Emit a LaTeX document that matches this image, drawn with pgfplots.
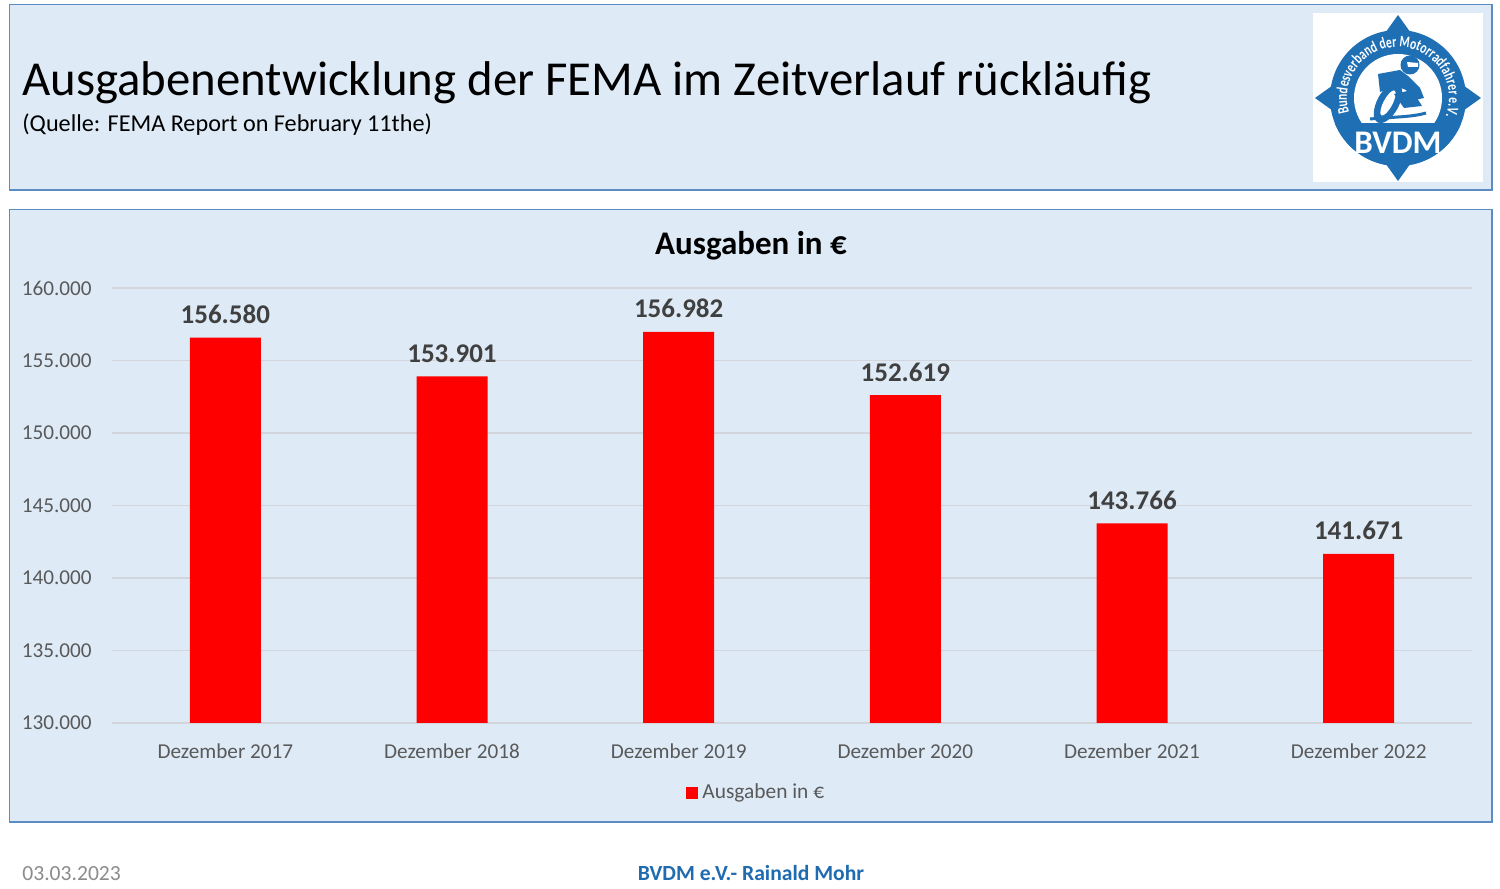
\documentclass[border=0pt]{standalone}
\usepackage{pgfplots}
\pgfplotsset{compat=1.18}
\usepackage{fontspec}
\setmainfont{Carlito}
\newfontfamily\logofont{Carlito}[FakeStretch=0.72]
\usetikzlibrary{decorations.text}
\definecolor{panel}{HTML}{DEEBF7}
\definecolor{panelborder}{HTML}{5B8DC3}
\definecolor{gridgray}{HTML}{D2D6DC}
\definecolor{tickgray}{HTML}{595959}
\definecolor{labelgray}{HTML}{404040}
\definecolor{footgray}{HTML}{8C8C8C}
\definecolor{footblue}{HTML}{1F6BB0}
\definecolor{logoblue}{HTML}{1F6FB4}
\definecolor{barred}{HTML}{FF0000}
\begin{document}
\begin{tikzpicture}
\path[use as bounding box, fill=white] (0,0) rectangle (750pt,444.5pt);
\begin{scope}[x=0.5pt,y=-0.5pt,shift={(0,444.5pt)}]
  \draw[panelborder, fill=panel, line width=0.7pt] (9.5,4.5) rectangle (1492,190);
  \draw[panelborder, fill=panel, line width=0.7pt] (9.5,209.5) rectangle (1492,822);
  \node[anchor=base west, inner sep=0pt] at (22,96) {\fontsize{24.4pt}{28pt}\selectfont Ausgabenentwicklung der FEMA im Zeitverlauf rückläufig};
  \node[anchor=base west, inner sep=0pt] at (22,132) {\fontsize{12.1pt}{14pt}\selectfont (Quelle: FEMA Report on February 11the)};
  \node[anchor=base, inner sep=0pt] at (751,255) {\bfseries\fontsize{16.5pt}{20pt}\selectfont Ausgaben in €};
  \node[anchor=base west, inner sep=0pt, text=footgray] at (22,881) {\fontsize{10.8pt}{13pt}\selectfont 03.03.2023};
  \node[anchor=base, inner sep=0pt, text=footblue] at (751,881) {\bfseries\fontsize{10.8pt}{13pt}\selectfont BVDM e.V.- Rainald Mohr};
\end{scope}
% logo
\begin{scope}[shift={(699pt,395.5pt)}, x=0.5pt, y=0.5pt]
  \fill[white] (-85,-84) rectangle (85,85);
  \foreach \a in {0,90,180,270}{
    \fill[logoblue, rotate=\a] (0,83) -- (15,62) -- (-15,62) -- cycle;
  }
  \fill[logoblue] (0,0) circle (68);
  \fill[white] (0,0) circle (44);
  \begin{scope}
    \clip (0,0) circle (68);
    \fill[logoblue] (-70,-25) rectangle (70,-70);
  \end{scope}
  \node[text=white, inner sep=0pt] at (0,-45) {\bfseries\fontsize{16.5pt}{18pt}\selectfont BVDM};
  \path[decorate, decoration={text along path, text align=center,
     text={|\color{white}\logofont\bfseries\fontsize{8pt}{9pt}\selectfont|Bundesverband der Motorradfahrer e.V.}}]
     (203:51) arc[start angle=203, end angle=-27, radius=51];
  % rider
  \fill[logoblue] (12,33) circle (9.5);
  \fill[white] (9,36) -- (20,35) -- (20,31) -- (10,31) -- cycle;
  \fill[logoblue] (-20,24) -- (2,28) -- (10,22) -- (22,10) -- (26,0) -- (17,-2) -- (8,8) -- (-2,12) -- (-18,6) -- cycle;
  \fill[logoblue, rotate around={-28:(-10,-5)}] (-10,-5) ellipse (11 and 22);
  \fill[white, rotate around={-28:(-10,-5)}] (-10,-5) ellipse (4.5 and 14);
  \fill[logoblue] (-4,4) -- (14,8) -- (24,-8) -- (6,-10) -- cycle;
  \draw[logoblue, line width=1.5pt] (-28,-21) .. controls (-5,-19) and (15,-19) .. (28,-15);
\end{scope}
\begin{axis}[
  at={(56pt,83pt)}, anchor=south west,
  scale only axis, width=680pt, height=217.5pt,
  ybar, bar width=35.5pt,
  xmin=-0.5, xmax=5.5, ymin=130000, ymax=160000,
  clip=false, scaled y ticks=false,
  xtick={0,1,2,3,4,5},
  xticklabels={Dezember 2017,Dezember 2018,Dezember 2019,Dezember 2020,Dezember 2021,Dezember 2022},
  ytick={130000,135000,140000,145000,150000,155000,160000},
  yticklabels={130.000,135.000,140.000,145.000,150.000,155.000,160.000},
  axis line style={draw=none},
  major tick length=0pt,
  ymajorgrids, grid style={gridgray, line width=0.6pt},
  ticklabel style={font=\fontsize{10.6pt}{12pt}\selectfont, text=tickgray},
  yticklabel style={anchor=east, inner sep=0pt, xshift=-10pt},
  xticklabel style={anchor=base, inner sep=0pt, yshift=-18pt},
  point meta=explicit symbolic,
  nodes near coords,
  every node near coord/.append style={anchor=base, inner sep=0pt, yshift=7pt, font=\bfseries\fontsize{13.5pt}{15pt}\selectfont, text=labelgray},
  legend style={at={(0.4745,-0.161)}, anchor=center, draw=none, fill=none, font=\fontsize{10.7pt}{12pt}\selectfont, text=tickgray},
]
\addplot[fill=barred, draw=none, legend image code/.code={\fill[barred] (0pt,-3pt) rectangle (6pt,3pt);}] coordinates {
  (0,156580) [156.580]
  (1,153901) [153.901]
  (2,156982) [156.982]
  (3,152619) [152.619]
  (4,143766) [143.766]
  (5,141671) [141.671]
};
\addlegendentry{Ausgaben in €}
\end{axis}
\end{tikzpicture}
\end{document}
